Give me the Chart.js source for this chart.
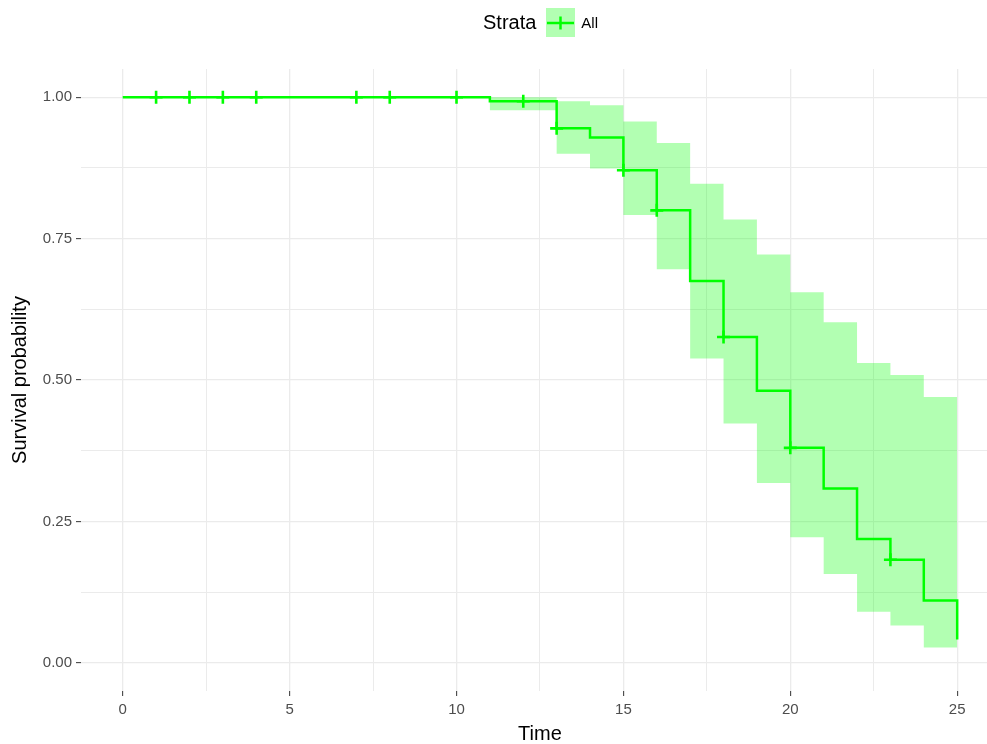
<!DOCTYPE html>
<html>
<head>
<meta charset="utf-8">
<script src="https://cdn.jsdelivr.net/npm/chart.js@4"></script>
<style>
  html, body { margin: 0; padding: 0; background: #fff; overflow: hidden; width: 987px; height: 744px; }
  /* the plot panel runs past the right edge of the window, as in the original */
  #wrap { position: relative; width: 1008px; height: 744px; }
  #legend { position: absolute; top: 8px; left: 483px; height: 29px; display: flex; align-items: center;
            font-family: "Liberation Sans", Arial, sans-serif; color: #000; }
  #legend .title { font-size: 20px; margin-right: 10px; }
  #legend svg { display: block; margin-right: 6px; }
  #legend .lab { font-size: 15px; }
</style>
</head>
<body>
<div id="wrap">
  <canvas id="km"></canvas>
  <div id="legend">
    <span class="title">Strata</span>
    <svg width="29" height="29">
      <rect x="0" y="0" width="29" height="29" fill="rgba(0,255,0,0.3)"></rect>
      <line x1="1" y1="15" x2="28" y2="15" stroke="#00ff00" stroke-width="2.5"></line>
      <line x1="14.5" y1="8.5" x2="14.5" y2="21.5" stroke="#00ff00" stroke-width="2.5"></line>
    </svg>
    <span class="lab">All</span>
  </div>
</div>
<script>
// Kaplan-Meier estimate
const times    = [0, 11, 13, 14, 15, 16, 17, 18, 19, 20, 21, 22, 23, 24, 25];
const survival = [1.000, 0.993, 0.945, 0.929, 0.871, 0.800, 0.675, 0.576, 0.481, 0.380, 0.308, 0.219, 0.182, 0.110, 0.041];
const upper    = [1.000, 1.000, 0.993, 0.986, 0.957, 0.919, 0.847, 0.784, 0.722, 0.655, 0.602, 0.530, 0.509, 0.470, 0.470];
const lower    = [1.000, 0.977, 0.900, 0.874, 0.792, 0.696, 0.538, 0.423, 0.318, 0.222, 0.157, 0.090, 0.066, 0.027, 0.027];
const censorTimes = [1, 2, 3, 4, 7, 8, 10, 12, 13, 15, 16, 18, 20, 23];

// major ticks (labelled) and grid lines incl. minor ones
const xTicks = [0, 5, 10, 15, 20, 25];
const xGrid  = [0, 2.5, 5, 7.5, 10, 12.5, 15, 17.5, 20, 22.5, 25];
const yTicks = [0, 0.25, 0.5, 0.75, 1];
const yGrid  = [0, 0.125, 0.25, 0.375, 0.5, 0.625, 0.75, 0.875, 1];

const GREEN = '#00ff00';
const FONT = '"Liberation Sans", Arial, sans-serif';

function survAt(t) {
  let s = survival[0];
  for (let i = 0; i < times.length; i++) {
    if (times[i] <= t) s = survival[i];
  }
  return s;
}

const pts = (ys) => times.map((t, i) => ({ x: t, y: ys[i] }));
const isMajorX = (v) => xTicks.some(t => Math.abs(t - v) < 1e-6);
const isMajorY = (v) => yTicks.some(t => Math.abs(t - v) < 1e-6);

new Chart(document.getElementById('km'), {
  type: 'line',
  data: {
    datasets: [
      {
        label: 'censor',
        data: censorTimes.map(t => ({ x: t, y: survAt(t) })),
        showLine: false,
        pointStyle: 'cross',
        pointRadius: 6.5,
        pointBorderWidth: 2.6,
        pointBorderColor: GREEN,
        pointBackgroundColor: GREEN
      },
      {
        label: 'All',
        data: pts(survival),
        stepped: 'before',
        borderColor: GREEN,
        borderWidth: 2.5,
        pointRadius: 0,
        fill: false
      },
      {
        label: 'upper',
        data: pts(upper),
        stepped: 'before',
        borderColor: 'transparent',
        borderWidth: 0,
        pointRadius: 0,
        backgroundColor: 'rgba(0,255,0,0.3)',
        fill: '+1'
      },
      {
        label: 'lower',
        data: pts(lower),
        stepped: 'before',
        borderColor: 'transparent',
        borderWidth: 0,
        pointRadius: 0,
        fill: false
      }
    ]
  },
  options: {
    responsive: true,
    maintainAspectRatio: false,
    animation: false,
    devicePixelRatio: 1,
    layout: { padding: { top: 69, left: 0, right: 0, bottom: 0 } },
    plugins: { legend: { display: false }, tooltip: { enabled: false } },
    scales: {
      x: {
        type: 'linear',
        min: -1.25,
        max: 26.25,
        border: { display: false },
        afterBuildTicks: (s) => { s.ticks = xGrid.map(v => ({ value: v })); },
        grid: {
          color: '#ebebeb',
          lineWidth: (c) => isMajorX(c.tick.value) ? 1.3 : 1,
          tickColor: (c) => isMajorX(c.tick.value) ? '#333333' : 'rgba(0,0,0,0)',
          tickLength: 5,
          tickWidth: 1
        },
        ticks: {
          autoSkip: false,
          maxRotation: 0,
          padding: 5,
          color: '#4d4d4d',
          font: { family: FONT, size: 15 },
          callback: (v) => isMajorX(v) ? String(Math.round(v)) : ''
        },
        title: {
          display: true,
          text: 'Time',
          color: '#000',
          font: { family: FONT, size: 20, lineHeight: 1 },
          padding: { top: 0, bottom: 0 }
        },
        afterFit: (s) => { s.height = 53; s.paddingLeft = 0; s.paddingRight = 0; }
      },
      y: {
        type: 'linear',
        min: -0.05,
        max: 1.05,
        border: { display: false },
        afterBuildTicks: (s) => { s.ticks = yGrid.map(v => ({ value: v })); },
        grid: {
          color: '#ebebeb',
          lineWidth: (c) => isMajorY(c.tick.value) ? 1.3 : 1,
          tickColor: (c) => isMajorY(c.tick.value) ? '#333333' : 'rgba(0,0,0,0)',
          tickLength: 5,
          tickWidth: 1
        },
        ticks: {
          autoSkip: false,
          padding: 4,
          color: '#4d4d4d',
          font: { family: FONT, size: 15 },
          callback: (v) => isMajorY(v) ? v.toFixed(2) : ''
        },
        title: {
          display: true,
          text: 'Survival probability',
          color: '#000',
          font: { family: FONT, size: 20, lineHeight: 1 },
          padding: { top: 10, bottom: 0 }
        },
        afterFit: (s) => { s.width = 81; s.paddingTop = 0; s.paddingBottom = 0; }
      }
    }
  }
});
</script>
</body>
</html>
